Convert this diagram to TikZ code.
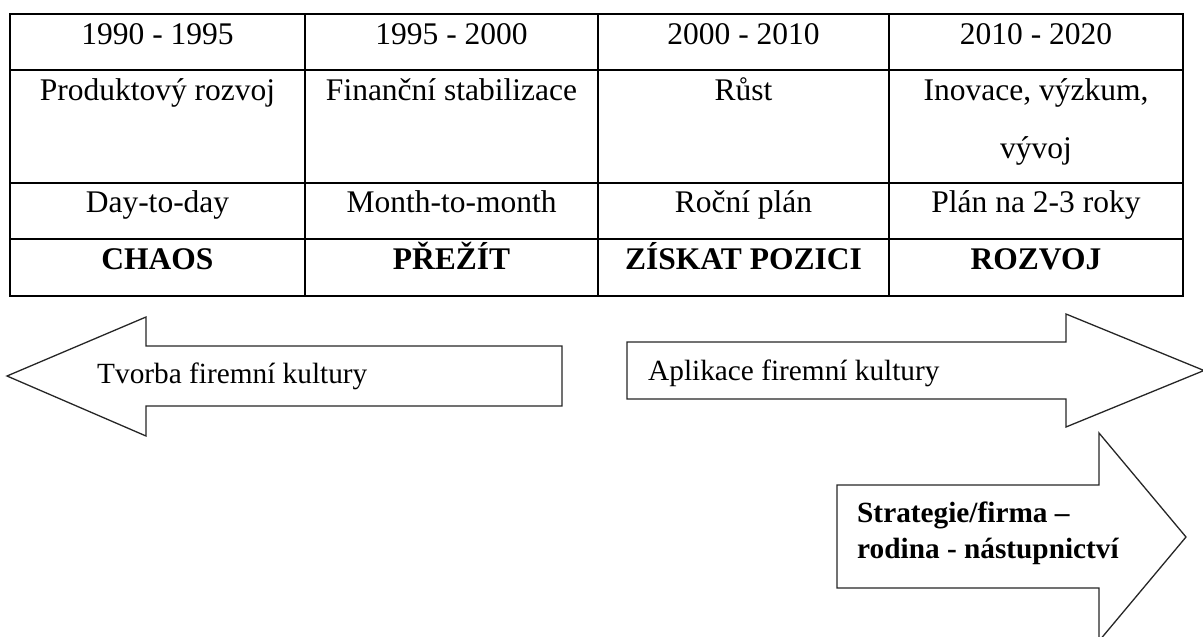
\documentclass[tikz,border=0pt]{standalone}
\usepackage{fontspec}
\setmainfont{Liberation Serif}
\begin{document}
\begin{tikzpicture}[x=1pt,y=-1pt,
  grid/.style={line width=2.7pt},
  bigarrow/.style={draw=black!85,line width=1.3pt,fill=white,line join=miter},
  cell/.style={anchor=base,inner sep=0pt,font=\fontsize{31.5}{38}\selectfont},
  boldcell/.style={cell,font=\fontsize{31.5}{38}\selectfont\bfseries},
  label/.style={anchor=base west,inner sep=0pt,font=\fontsize{29.3}{36}\selectfont},
  boldlabel/.style={label,font=\fontsize{29.3}{36}\selectfont\bfseries}]
\useasboundingbox (0,0) rectangle (1203,637);

% table frame and rules
\draw[grid] (10,14) rectangle (1183,296);
\foreach \yy in {70,183,239} \draw[grid] (10,\yy) -- (1183,\yy);
\foreach \xx in {305,598,889} \draw[grid] (\xx,14) -- (\xx,296);

% row 1: periods
\node[cell] (p1) at (157.5,44) {1990 - 1995};
\node[cell] (p2) at (451.5,44) {1995 - 2000};
\node[cell] (p3) at (743.5,44) {2000 - 2010};
\node[cell] (p4) at (1036,44) {2010 - 2020};

% row 2: focus
\node[cell] (f1) at (157.5,100) {Produktový rozvoj};
\node[cell] (f2) at (451.5,100) {Finanční stabilizace};
\node[cell] (f3) at (743.5,100) {Růst};
\node[cell] (f4a) at (1036,100) {Inovace, výzkum,};
\node[cell] (f4b) at (1036,158) {vývoj};

% row 3: planning horizon
\node[cell] (h1) at (157.5,212) {Day-to-day};
\node[cell] (h2) at (451.5,212) {Month-to-month};
\node[cell] (h3) at (743.5,212) {Roční plán};
\node[cell] (h4) at (1036,212) {Plán na 2-3 roky};

% row 4: phase
\node[boldcell] (s1) at (157.5,269) {CHAOS};
\node[boldcell] (s2) at (451.5,269) {PŘEŽÍT};
\node[boldcell] (s3) at (743.5,269) {ZÍSKAT POZICI};
\node[boldcell] (s4) at (1036,269) {ROZVOJ};

% block arrows
\draw[bigarrow] (7,376) -- (146,317) -- (146,346) -- (562,346) -- (562,406)
  -- (146,406) -- (146,436) -- cycle;
\node[label] (tvorba) at (97,383) {Tvorba firemní kultury};

\draw[bigarrow] (627,342) -- (1066,342) -- (1066,314) -- (1204,370.5)
  -- (1066,427) -- (1066,399) -- (627,399) -- cycle;
\node[label] (aplikace) at (648,380) {Aplikace firemní kultury};

\draw[bigarrow] (837,485) -- (1099,485) -- (1099,433) -- (1186,537)
  -- (1099,641) -- (1099,588) -- (837,588) -- cycle;
\node[boldlabel] (strat1) at (857,522) {Strategie/firma –};
\node[boldlabel] (strat2) at (857,558) {rodina - nástupnictví};
\end{tikzpicture}
\end{document}
